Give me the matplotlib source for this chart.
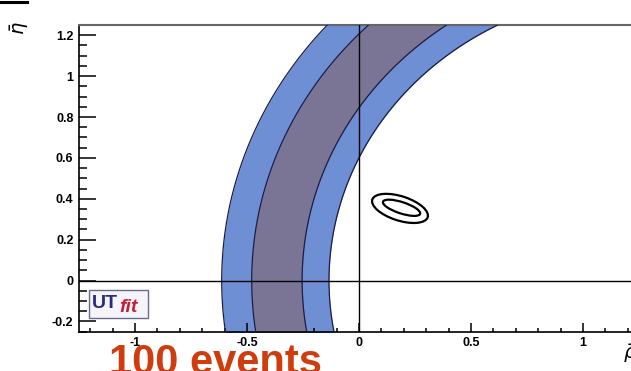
import numpy as np
import matplotlib
matplotlib.use("Agg")
import matplotlib.pyplot as plt
from matplotlib.patches import Ellipse, Rectangle
from matplotlib.ticker import MultipleLocator

plt.rcParams["font.family"] = ["Liberation Sans", "DejaVu Sans"]

# constraint band: circles around a common centre on the rho axis
BAND_CENTER = 1.28
BAND_RADII = [1.893, 1.759, 1.534, 1.414]     # outer-left edge ... inner-right edge
# fitted contours (outer, inner)
CONT_CENTER = [(0.183, 0.353), (0.19, 0.356)]
CONT_WIDTH = [0.262, 0.176]
CONT_HEIGHT = [0.118, 0.055]
CONT_ANGLE = [-20, -20]

XTICKS = [-1, -0.5, 0, 0.5, 1]
XTICKLABELS = ["-1", "-0.5", "0", "0.5", "1"]
YTICKS = [-0.2, 0, 0.2, 0.4, 0.6, 0.8, 1, 1.2]
YTICKLABELS = ["-0.2", "0", "0.2", "0.4", "0.6", "0.8", "1", "1.2"]

LIGHT = "#6f8fd5"
DARK = "#7b7595"
EDGE = "#1c1c45"

W, H = 631, 371
fig = plt.figure(figsize=(W / 100, H / 100), dpi=100)
ax = fig.add_axes([79 / W, 39.3 / H, 560 / W, 306.7 / H])
ax.set_xlim(-1.25, 1.25)
ax.set_ylim(-0.25, 1.25)

eta = np.linspace(-0.3, 1.3, 400)
edges = [BAND_CENTER - np.sqrt(r ** 2 - eta ** 2) for r in BAND_RADII]
ax.fill_betweenx(eta, edges[0], edges[3], color=LIGHT, lw=0, zorder=1)
ax.fill_betweenx(eta, edges[1], edges[2], color=DARK, lw=0, zorder=2)
for e in edges:
    ax.plot(e, eta, color=EDGE, lw=0.9, zorder=3)

ax.axhline(0, color="black", lw=1.0, zorder=4)
ax.axvline(0, color="black", lw=1.0, zorder=4)

for c, w, h, a in zip(CONT_CENTER, CONT_WIDTH, CONT_HEIGHT, CONT_ANGLE):
    ax.add_patch(Ellipse(c, w, h, angle=a, fill=False, ec="black", lw=1.6, zorder=5))

ax.set_xticks(XTICKS)
ax.set_xticklabels(XTICKLABELS, fontweight="bold", fontsize=9)
ax.set_yticks(YTICKS)
ax.set_yticklabels(YTICKLABELS, fontweight="bold", fontsize=9)
ax.xaxis.set_minor_locator(MultipleLocator(0.1))
ax.yaxis.set_minor_locator(MultipleLocator(0.05))
ax.tick_params(axis="x", which="major", direction="in", length=6.5, width=1.1, pad=4)
ax.tick_params(axis="x", which="minor", direction="in", length=3.2, width=1.1)
ax.tick_params(axis="y", which="major", direction="in", length=12, width=1.1, pad=4)
ax.tick_params(axis="y", which="minor", direction="in", length=6, width=1.1)
ax.tick_params(top=False, right=False, which="both")
for s in ["left", "bottom"]:
    ax.spines[s].set_linewidth(1.2)
ax.spines["top"].set_color("#666666")
ax.spines["top"].set_linewidth(1.5)
ax.spines["right"].set_visible(False)

# axis titles
fig.text(20 / W, 1 - 28 / H, r"$\bar{\eta}$", rotation=90, fontsize=14,
         ha="center", va="center")
fig.text(623 / W, 1 - 342 / H, r"$\bar{\rho}$", fontsize=14, ha="left", va="top")

# UTfit logo
fig.patches.append(Rectangle((89 / W, 1 - 318 / H), 59 / W, 28 / H,
                             transform=fig.transFigure, fc="#f5f4f8", ec="#6a6a8e", lw=1.0))
fig.text(92 / W, 1 - 308 / H, "UT", fontsize=14, fontweight="bold", color="#2b2d7c",
         ha="left", va="baseline")
fig.text(119 / W, 1 - 312 / H, "fit", fontsize=14, fontweight="bold", style="italic",
         color="#c4203c", ha="left", va="baseline")

# label under the plot
fig.text(109 / W, -3 / H, "100 events", fontsize=30, fontweight="bold", color="#cf3d0f",
         ha="left", va="baseline")

# small black bar at the top-left corner
fig.add_artist(plt.Line2D([0, 27 / W], [1 - 1.5 / H, 1 - 1.5 / H], transform=fig.transFigure,
                          color="black", lw=2.2))

fig.savefig("out.png", dpi=100, facecolor="white")
